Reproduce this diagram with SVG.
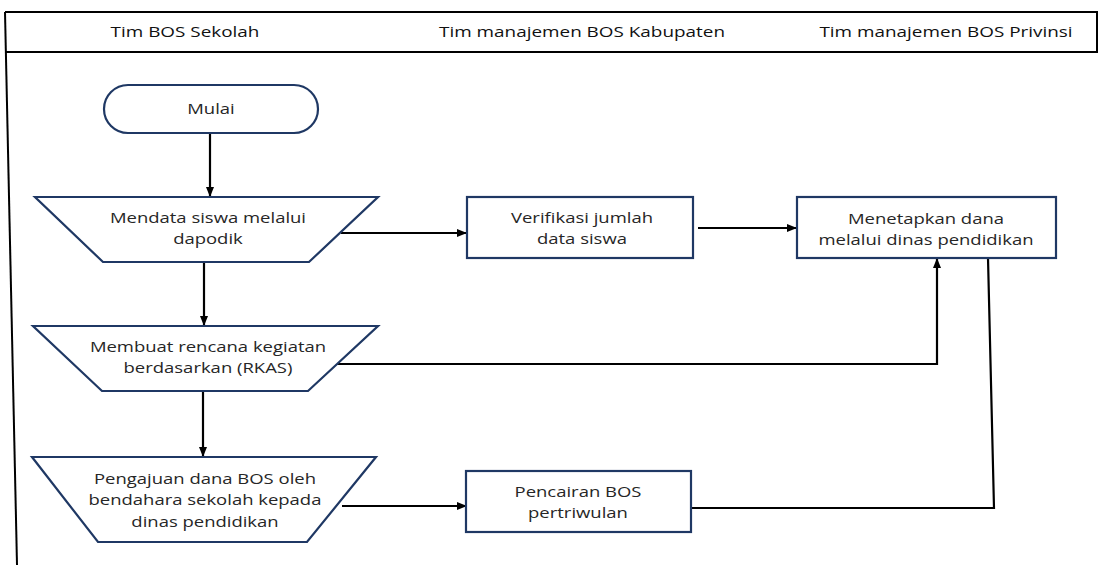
<svg xmlns="http://www.w3.org/2000/svg" width="1099" height="565" viewBox="0 0 1099 565">
<defs>
<marker id="ah" markerWidth="10" markerHeight="8" refX="9" refY="4" orient="auto" markerUnits="userSpaceOnUse">
<path d="M0,0 L10,4 L0,8 Z" fill="#000"/>
</marker>
<style>
.node{fill:#fff;stroke:#1f3864;stroke-width:2.2}
.t{font-family:"Open Sans","Liberation Sans",sans-serif;font-size:14px;fill:#262626;text-anchor:middle;transform-box:fill-box;transform-origin:center;transform:scaleX(1.32)}
.h{font-family:"Open Sans","Liberation Sans",sans-serif;font-size:14px;fill:#111;text-anchor:middle;transform-box:fill-box;transform-origin:center;transform:scaleX(1.35)}
.c{fill:none;stroke:#000;stroke-width:2.2}
.f{fill:none;stroke:#000;stroke-width:2}
</style>
</defs>
<rect width="1099" height="565" fill="#fff"/>
<g id="frame">
<path class="f" d="M5,12 H1097 V52 H5"/>
<path class="f" d="M5,12 L17,565"/>
<text class="h" x="185" y="37">Tim BOS Sekolah</text>
<text class="h" x="582" y="37">Tim manajemen BOS Kabupaten</text>
<text class="h" x="946" y="37">Tim manajemen BOS Privinsi</text>
</g>
<g id="connectors">
<path class="c" d="M210,133 V196" marker-end="url(#ah)"/>
<path class="c" d="M204,263 V325" marker-end="url(#ah)"/>
<path class="c" d="M203,391 V456" marker-end="url(#ah)"/>
<path class="c" d="M341,233 H466" marker-end="url(#ah)"/>
<path class="c" d="M698,228 H796" marker-end="url(#ah)"/>
<path class="c" d="M337,364 H937 V259" marker-end="url(#ah)"/>
<path class="c" d="M342,506 H466" marker-end="url(#ah)"/>
<path class="c" d="M988,258 L994,508 H691"/>
</g>
<g id="mulai">
<rect class="node" x="104" y="85" width="214" height="48" rx="24"/>
<text class="t" x="211" y="114">Mulai</text>
</g>
<g id="mendata">
<path class="node" d="M35,197 H378 L309,262 H103 Z"/>
<text class="t" x="208" y="223">Mendata siswa melalui</text>
<text class="t" x="208" y="244">dapodik</text>
</g>
<g id="rencana">
<path class="node" d="M33,326 H378 L308,391 H102 Z"/>
<text class="t" x="208" y="352">Membuat rencana kegiatan</text>
<text class="t" x="208" y="373">berdasarkan (RKAS)</text>
</g>
<g id="pengajuan">
<path class="node" d="M32,457 H376 L307,542 H98 Z"/>
<text class="t" x="205" y="484">Pengajuan dana BOS oleh</text>
<text class="t" x="205" y="505">bendahara sekolah kepada</text>
<text class="t" x="205" y="527">dinas pendidikan</text>
</g>
<g id="verifikasi">
<rect class="node" x="467" y="197" width="226" height="61"/>
<text class="t" x="582" y="223">Verifikasi jumlah</text>
<text class="t" x="582" y="244">data siswa</text>
</g>
<g id="menetapkan">
<rect class="node" x="797" y="197" width="259" height="61"/>
<text class="t" x="926" y="224">Menetapkan dana</text>
<text class="t" x="926" y="245">melalui dinas pendidikan</text>
</g>
<g id="pencairan">
<rect class="node" x="466" y="471" width="225" height="61"/>
<text class="t" x="578" y="497">Pencairan BOS</text>
<text class="t" x="578" y="518">pertriwulan</text>
</g>
</svg>
